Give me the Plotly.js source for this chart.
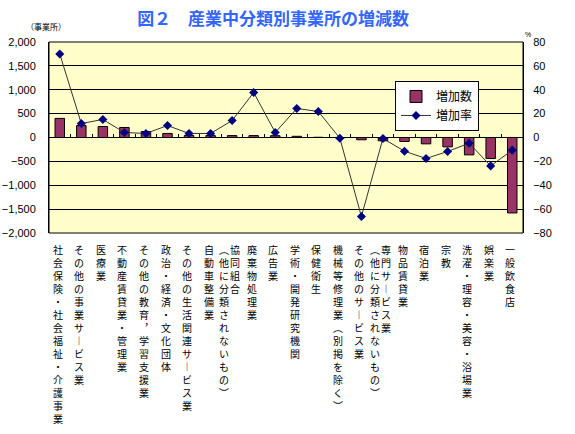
<!DOCTYPE html>
<html>
<head>
<meta charset="utf-8">
<script src="https://cdn.plot.ly/plotly-3.0.1.min.js"></script>
<style>html,body{margin:0;padding:0;background:#fff;}#chart{width:575px;height:434px;}</style>
</head>
<body>
<div id="chart"></div>
<script>
const categories = [
  "社会保険・社会福祉・介護事業",
  "その他の事業サービス業",
  "医療業",
  "不動産賃貸業・管理業",
  "その他の教育，学習支援業",
  "政治・経済・文化団体",
  "その他の生活関連サービス業",
  "自動車整備業",
  "協同組合（他に分類されないもの）",
  "廃棄物処理業",
  "広告業",
  "学術・開発研究機関",
  "保健衛生",
  "機械等修理業（別掲を除く）",
  "その他のサービス業",
  "専門サービス業（他に分類されないもの）",
  "物品賃貸業",
  "宿泊業",
  "宗教",
  "洗濯・理容・美容・浴場業",
  "娯楽業",
  "一般飲食店"
];
const countValues = [400, 250, 230, 210, 125, 85, 42, 40, 40, 40, 38, 25, 5, -5, -48, -70, -84, -133, -196, -364, -440, -1580];
const rateValues = [70, 11.7, 15.1, 4.2, 3.4, 10, 3.4, 3.4, 14.2, 37.7, 4.2, 24.3, 21.8, -0.6, -66.2, -0.8, -11.5, -17.6, -11.7, -4.8, -23.8, -10.6];
const countName = "増加数";
const rateName = "増加率";
const titleText = "図２　産業中分類別事業所の増減数";

const JP = '"Noto Sans CJK JP", "Noto Sans", sans-serif';
const vmap = {"（":"︵","）":"︶","ー":"︱","，":"︐"};
function vert(s){ return Array.from(s).map(c => vmap[c] || c).join("<br>"); }
function columns(s){
  if (Array.from(s).length > 14 && s.indexOf("（") > 0) {
    const i = s.indexOf("（");
    return [s.slice(0, i), s.slice(i)];
  }
  return [s];
}

const annotations = [];
categories.forEach(c => {
  const cols = columns(c);
  const shifts = cols.length === 1 ? [-2] : [3, -8];
  cols.forEach((t, k) => {
    annotations.push({
      x: c, xref: "x", y: 0, yref: "paper", yanchor: "top", xanchor: "center",
      yshift: -7, xshift: shifts[k], showarrow: false, align: "center",
      text: vert(t), font: {family: JP, size: 10, color: "#000"}
    });
  });
});
annotations.push({x: 0, xref: "paper", xanchor: "center", xshift: -3, y: 1, yref: "paper", yanchor: "bottom", yshift: 8,
  showarrow: false, text: "（事業所）", font: {family: JP, size: 8, color: "#000"}});
annotations.push({x: 1, xref: "paper", xanchor: "left", xshift: 0, y: 1, yref: "paper", yanchor: "bottom", yshift: 2,
  showarrow: false, text: "%", font: {family: "Arial, sans-serif", size: 7, color: "#000"}});

const traces = [
  {type: "bar", x: categories, y: countValues, name: countName, yaxis: "y",
   marker: {color: "#993366", line: {color: "#000", width: 1}}},
  {type: "scatter", mode: "lines+markers", x: categories, y: rateValues, name: rateName, yaxis: "y2",
   line: {color: "#333", width: 1}, marker: {symbol: "diamond", size: 7, color: "#000080"}}
];

const layout = {
  width: 575, height: 434,
  margin: {l: 49, r: 52, t: 42, b: 201, pad: 0},
  paper_bgcolor: "#fff", plot_bgcolor: "#FFFFCC",
  bargap: 0.56,
  title: {text: titleText, x: 0.475, xanchor: "center", y: 0.955, yanchor: "middle",
    font: {family: JP, size: 17, color: "#3366FF", weight: "bold"}},
  showlegend: true,
  legend: {x: 0.73, y: 0.796, xanchor: "left", yanchor: "top", bgcolor: "#fff",
    bordercolor: "#000", borderwidth: 1, font: {family: JP, size: 12, color: "#000"},
    itemwidth: 30, tracegroupgap: 0},
  xaxis: {type: "category", range: [-0.5, categories.length - 0.5], anchor: "free", position: 0.5, showticklabels: false,
    ticks: "inside", ticklen: 4, tickcolor: "#000", tickson: "boundaries",
    showgrid: false, showline: false, zeroline: false, fixedrange: true},
  yaxis: {range: [-2000, 2000], dtick: 500, tickformat: ",", showgrid: true, gridcolor: "#000",
    gridwidth: 1, zeroline: true, zerolinecolor: "#000", zerolinewidth: 1, showline: true, linecolor: "#000",
    ticks: "", ticklabelstandoff: 10, tickfont: {family: "Arial, sans-serif", size: 11, color: "#000"}},
  yaxis2: {range: [-80, 80], dtick: 20, overlaying: "y", side: "right", showgrid: false, zeroline: false,
    showline: true, linecolor: "#000", ticks: "", ticklabelstandoff: 7,
    tickfont: {family: "Arial, sans-serif", size: 11, color: "#000"}},
  shapes: [{type: "rect", xref: "paper", yref: "paper", x0: 0, x1: 1, y0: 0, y1: 1,
    line: {color: "#000", width: 1}, fillcolor: "rgba(0,0,0,0)", layer: "above"}],
  annotations: annotations
};

Plotly.newPlot("chart", traces, layout, {displayModeBar: false, staticPlot: true});
</script>
</body>
</html>
